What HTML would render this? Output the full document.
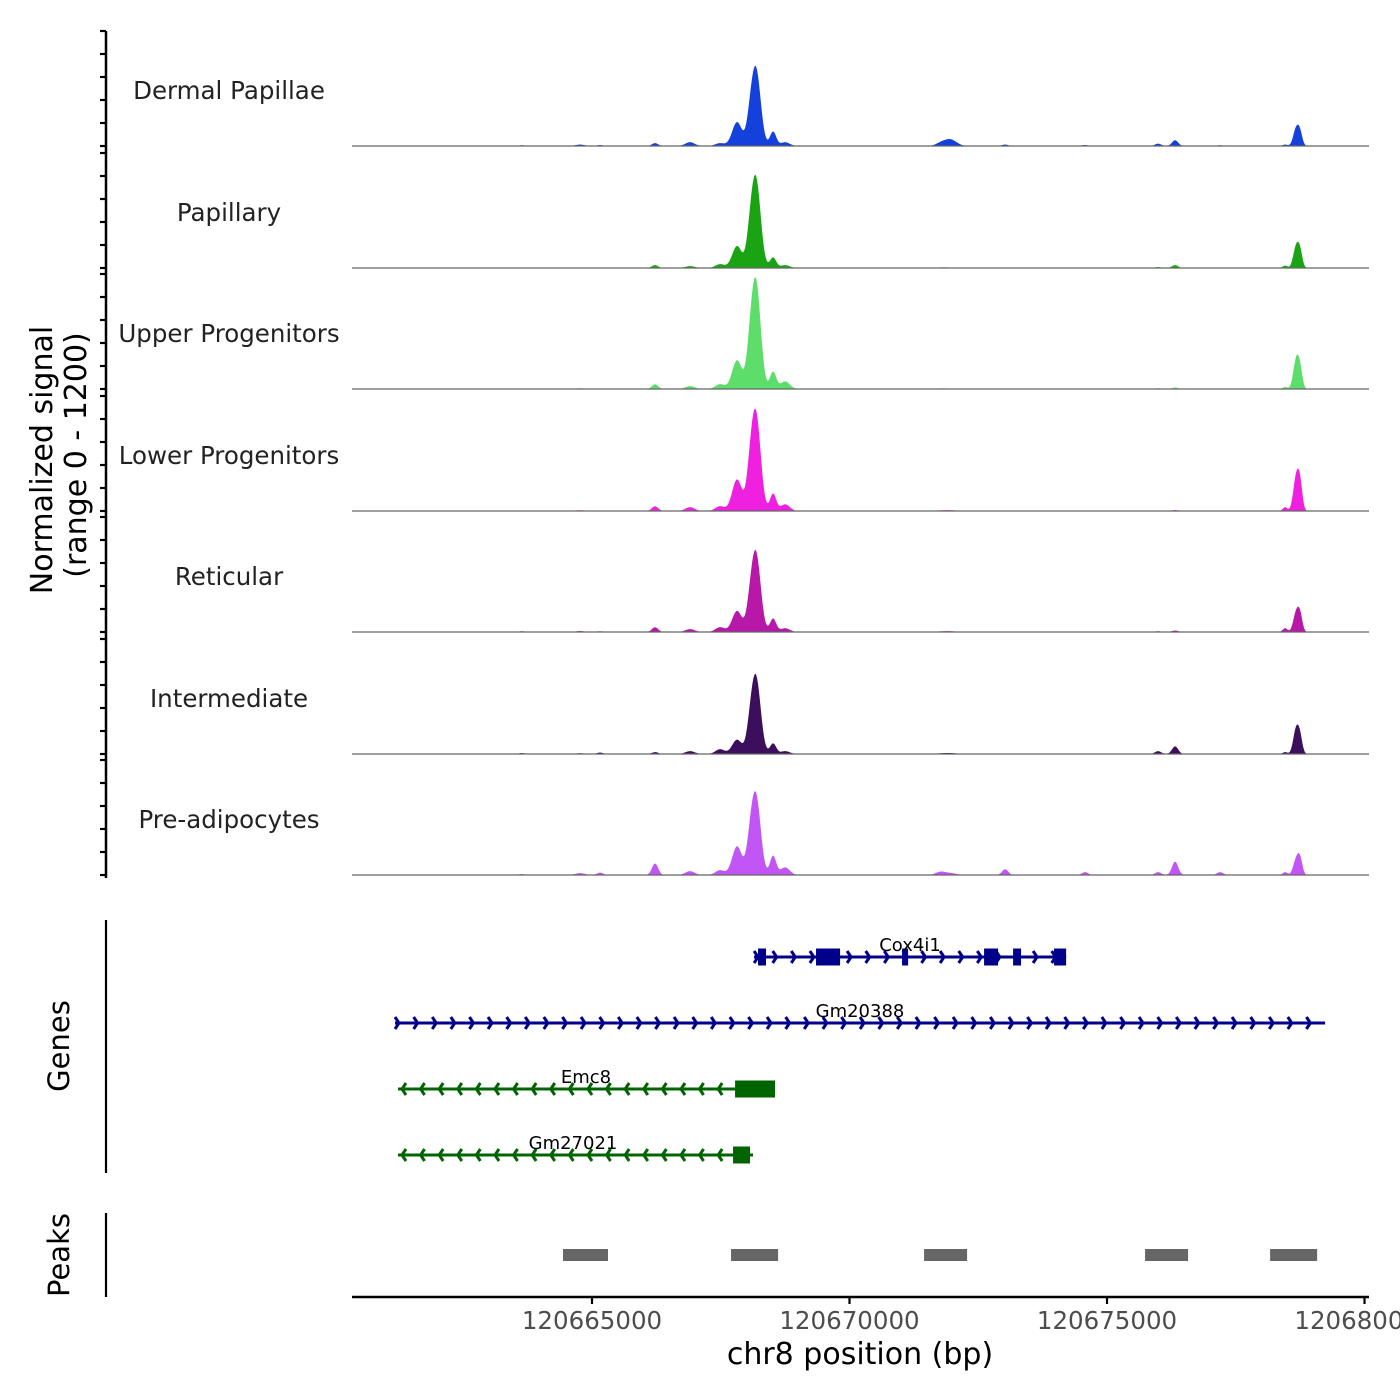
<!DOCTYPE html>
<html><head><meta charset="utf-8"><style>
html,body{margin:0;padding:0;background:#fff;}
svg{display:block;font-family:"DejaVu Sans","Liberation Sans",sans-serif;}
</style></head><body>
<svg id="chart" width="1400" height="1400" viewBox="0 0 1400 1400" xmlns="http://www.w3.org/2000/svg">
<rect x="0" y="0" width="1400" height="1400" fill="#fff"/>
<g id="tracks"></g>
<g id="yaxis"></g>
<text transform="translate(52,460) rotate(-90)" text-anchor="middle" font-size="30" fill="#000">Normalized signal</text>
<text transform="translate(86,455) rotate(-90)" text-anchor="middle" font-size="30" fill="#000">(range 0 - 1200)</text>
<g id="genes"></g>
<line x1="106" y1="920" x2="106" y2="1173" stroke="#000" stroke-width="2.2"/>
<text transform="translate(69,1046) rotate(-90)" text-anchor="middle" font-size="29" fill="#000">Genes</text>
<g id="peaks"></g>
<line x1="106" y1="1213" x2="106" y2="1297" stroke="#000" stroke-width="2.2"/>
<text transform="translate(69,1255) rotate(-90)" text-anchor="middle" font-size="29" fill="#000">Peaks</text>
<g id="xaxis"></g>
<text x="860" y="1364" text-anchor="middle" font-size="30" fill="#000">chr8 position (bp)</text>
</svg>
<script>
const trackNames = ["Dermal Papillae","Papillary","Upper Progenitors","Lower Progenitors","Reticular","Intermediate","Pre-adipocytes"];
const trackColors = ["#1440dc","#1aa312","#5ddd6a","#f020e0","#b818a8","#3b0f5c","#c255f5"];
const peakPos = [120664768,120665156,120663641,120666224,120666904,120667487,120667817,120668069,120668186,120668516,120668749,120671759,120671953,120673021,120674574,120675992,120676322,120677196,120678458,120678672,120678750];
const peakWidth = [90,60,60,60,90,90,95,70,90,60,90,90,120,60,60,60,60,60,45,55,45];
const hDermal = [15,10,8,30,40,30,250,200,780,150,40,25,70,15,10,25,60,8,15,180,120];
const hPapillary = [5,3,3,30,20,40,230,250,900,110,30,5,5,5,5,10,30,3,25,220,150];
const hUpper = [8,5,3,50,30,50,300,300,1080,180,80,5,5,5,5,8,15,3,20,300,180];
const hLower = [8,5,5,50,40,50,330,300,980,180,70,5,8,5,5,5,10,5,40,350,250];
const hReticular = [10,8,8,50,30,50,220,200,800,140,40,5,8,5,5,8,15,5,40,200,160];
const hIntermediate = [8,15,10,20,30,50,150,200,780,110,30,5,10,5,5,30,80,5,20,260,150];
const hPreadip = [20,25,10,120,40,50,300,250,800,200,80,30,20,60,30,30,140,30,30,160,150];
const trackHeights = [hDermal,hPapillary,hUpper,hLower,hReticular,hIntermediate,hPreadip];
const xTicks = [120665000,120670000,120675000,120680000];
const xTickLabels = ["120665000","120670000","120675000","120680000"];
const yTicks = [0,240,480,720,960,1200];

const geneNames = ["Cox4i1","Gm20388","Emc8","Gm27021"];
const geneStart = [120668147,120661175,120661233,120661233];
const geneEnd = [120674206,120679235,120668554,120668127];
const geneStrand = [1,1,-1,-1];
const geneExons = [
 [[120668224,120668379],[120669350,120669817],[120671021,120671138],[120672613,120672885],[120673176,120673331],[120673972,120674206]],
 [],
 [[120667778,120668554]],
 [[120667739,120668069]]
];
const peakStart = [120664437,120667700,120671448,120675739,120678167];
const peakEnd = [120665311,120668613,120672283,120676574,120679080];

const NS="http://www.w3.org/2000/svg";
function mk(tag,attrs,parent){const e=document.createElementNS(NS,tag);for(const k in attrs)e.setAttribute(k,attrs[k]);parent.appendChild(e);return e;}
const X0=120660340, BPPX=19.417, XL=352, XR=1369;
function xs(bp){return XL+(bp-X0)/BPPX;}
const baselines=[146,268,389,511,632,754,875];
const TH=115;
function ys(v,b){return b-v/1200*TH;}

const gT=document.getElementById('tracks');
trackNames.forEach((nm,i)=>{
  const b=baselines[i], h=trackHeights[i];
  const g=mk('g',{},gT);
  
  
  let d='M'+XL+','+b;
  for(let px=XL;px<=XR;px+=1){
    const bp=X0+(px-XL)*BPPX;let v=0;
    for(let k=0;k<peakPos.length;k++){const z=(bp-peakPos[k])/peakWidth[k];if(Math.abs(z)<6)v+=h[k]*Math.exp(-0.5*z*z);}
    d+=' L'+px+','+ys(Math.min(v,1200),b).toFixed(2);
  }
  d+=' L'+XR+','+b+' Z';
  const p=mk('path',{d:d,fill:trackColors[i],stroke:'none'},g);
  
  
  const l=mk('line',{x1:XL,x2:XR,y1:b,y2:b,stroke:'#666','stroke-width':1.2},g);
  
  
  const t=mk('text',{x:229,y:b-47,'text-anchor':'middle','font-size':24.5,fill:'#222'},g);
  t.textContent=nm;
  
  
});

const gY=document.getElementById('yaxis');
const ax=mk('line',{x1:106,y1:31,x2:106,y2:878,stroke:'#000','stroke-width':2.5},gY);


baselines.forEach(b=>{
  yTicks.forEach(v=>{
    const y=ys(v,b);
    const tk=mk('line',{x1:100,x2:106,y1:y,y2:y,stroke:'#000','stroke-width':2.2},gY);
    
    
  });
});

const gG=document.getElementById('genes');
const rowsY=[957,1023,1089,1155];
geneNames.forEach((nm,i)=>{
  const y=rowsY[i], col=geneStrand[i]>0?'#00008b':'#006400';
  const g=mk('g',{},gG);
  
  
  const x1=xs(geneStart[i]),x2=xs(geneEnd[i]);
  mk('line',{x1:x1,x2:x2,y1:y,y2:y,stroke:col,'stroke-width':3},g);
  for(let x=x1+4;x<=x2-2;x+=18.6){
    const s=geneStrand[i];
    mk('polyline',{points:`${x-4*s},${y-6} ${x},${y} ${x-4*s},${y+6}`,fill:'none',stroke:col,'stroke-width':3},g);
  }
  geneExons[i].forEach(e=>{
    const r=mk('rect',{x:xs(e[0]),y:y-8.5,width:Math.max(xs(e[1])-xs(e[0]),5),height:17,fill:col},g);
    
    
  });
  const t=mk('text',{x:(x1+x2)/2,y:y-6,'text-anchor':'middle','font-size':18,fill:'#000'},g);
  t.textContent=nm;
  
  
});
const gl=gG.querySelectorAll('text');
const lx=[910,860,586,573];
gl.forEach((t,i)=>t.setAttribute('x',lx[i]));

const gP=document.getElementById('peaks');
peakStart.forEach((s,i)=>{
  const r=mk('rect',{x:xs(s),y:1249,width:xs(peakEnd[i])-xs(s),height:12,fill:'#666'},gP);
  
  
});

const gX=document.getElementById('xaxis');
const xl=mk('line',{x1:XL,x2:XR,y1:1297,y2:1297,stroke:'#000','stroke-width':2.5},gX);


xTicks.forEach((v,i)=>{
  const x=xs(v);
  const tk=mk('line',{x1:x,x2:x,y1:1297,y2:1304,stroke:'#000','stroke-width':2.2},gX);
  
  
  const t=mk('text',{x:x,y:1329,'text-anchor':'middle','font-size':24.5,fill:'#4d4d4d'},gX);
  t.textContent=xTickLabels[i];
  
  
});
</script>
</body></html>
